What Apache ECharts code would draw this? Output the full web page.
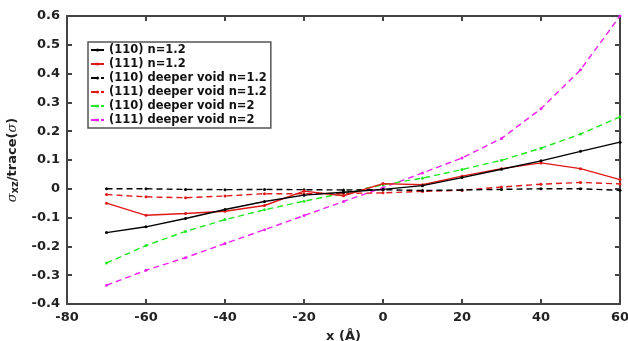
<!DOCTYPE html>
<html>
<head>
<meta charset="utf-8">
<script src="https://cdn.jsdelivr.net/npm/echarts@6/dist/echarts.min.js"></script>
<style>
html,body{margin:0;padding:0;background:#fff;}
#c{width:628px;height:341px;}
</style>
</head>
<body>
<div id="c"></div>
<script>
const xVals = [-70,-60,-50,-40,-30,-20,-10,0,10,20,30,40,50,60];
const s110_12 = [-0.152,-0.132,-0.103,-0.072,-0.044,-0.022,-0.012,-0.002,0.011,0.039,0.068,0.097,0.130,0.162];
const s111_12 = [-0.050,-0.092,-0.086,-0.078,-0.058,-0.008,-0.024,0.018,0.014,0.044,0.070,0.090,0.070,0.032];
const d110_12 = [0.000,0.000,-0.002,-0.003,-0.002,-0.003,-0.004,-0.003,-0.006,-0.004,-0.002,0.000,0.000,-0.005];
const d111_12 = [-0.020,-0.028,-0.031,-0.025,-0.017,-0.017,-0.016,-0.014,-0.009,-0.005,0.006,0.016,0.022,0.017];
const d110_2 = [-0.258,-0.197,-0.148,-0.107,-0.073,-0.043,-0.015,0.014,0.037,0.067,0.099,0.141,0.190,0.250];
const d111_2 = [-0.335,-0.283,-0.239,-0.190,-0.142,-0.093,-0.044,0.004,0.055,0.107,0.175,0.278,0.413,0.600];
const seriesNames = ['(110) n=1.2','(111) n=1.2','(110) deeper void n=1.2','(111) deeper void n=1.2','(110) deeper void n=2','(111) deeper void n=2'];
const seriesVals = [s110_12, s111_12, d110_12, d111_12, d110_2, d111_2];
const colors = ['#000000','#e01818','#000000','#e01818','#22e822','#ee22ee'];
const dashed = [false,false,true,true,true,true];

const chart = echarts.init(document.getElementById('c'));
const F = 'DejaVu Sans';
const mkLine = () => ({show:true, onZero:false, lineStyle:{color:'#444', width:2}});
const mkTick = () => ({show:true, inside:true, length:5, lineStyle:{color:'#444', width:2}});
const mkLbl = () => ({margin:7, fontFamily:F, fontWeight:'bold', fontSize:13, color:'#222'});

const series = seriesNames.map((n,i)=>({
  name:n, type:'line', xAxisIndex:0, yAxisIndex:0,
  data: xVals.map((x,j)=>[x, seriesVals[i][j]]),
  symbol:'circle', symbolSize:3, showSymbol:true,
  itemStyle:{color:colors[i]},
  lineStyle:{color:colors[i], width:1.4, type: dashed[i] ? [6,4] : 'solid'},
  z: 10 - i
}));
series.push({type:'line', xAxisIndex:1, yAxisIndex:1, data:[]});

chart.setOption({
  animation:false,
  grid:{left:67, right:8, top:16, bottom:37, outerBoundsMode:'none', containLabel:false, show:false},
  legend:{
    orient:'vertical', left:88, top:42,
    backgroundColor:'#fff', borderColor:'#555', borderWidth:1.5,
    padding:[1,4,1,2], itemGap:0, itemWidth:13, itemHeight:4,
    textStyle:{fontFamily:F, fontWeight:'bold', fontSize:11.5, color:'#111', lineHeight:14},
    data: seriesNames
  },
  xAxis:[{
    type:'value', min:-80, max:60, interval:20, position:'bottom',
    axisLine:mkLine(), axisTick:mkTick(), splitLine:{show:false},
    axisLabel:mkLbl(),
    name:'x (Å)', nameLocation:'middle', nameGap:26,
    nameTextStyle:{fontFamily:F, fontWeight:'bold', fontSize:13, color:'#222'}
  },{
    type:'value', min:-80, max:60, interval:20, position:'top',
    axisLine:mkLine(), axisTick:mkTick(), splitLine:{show:false}, axisLabel:{show:false}
  }],
  yAxis:[{
    type:'value', min:-0.4, max:0.6, interval:0.1, position:'left',
    axisLine:mkLine(), axisTick:mkTick(), splitLine:{show:false},
    axisLabel:mkLbl(),
    name:'{s|σ}{sub|xz}{t|/trace(}{s|σ}{t|)}', nameLocation:'middle', nameGap:45, nameRotate:90,
    nameTextStyle:{
      rich:{
        s:{fontFamily:'DejaVu Serif', fontStyle:'italic', fontSize:13, color:'#222'},
        sub:{fontFamily:F, fontWeight:'bold', fontSize:10, color:'#222', padding:[6,0,0,0]},
        t:{fontFamily:F, fontWeight:'bold', fontSize:13, color:'#222'}
      }
    }
  },{
    type:'value', min:-0.4, max:0.6, interval:0.1, position:'right',
    axisLine:mkLine(), axisTick:mkTick(), splitLine:{show:false}, axisLabel:{show:false}
  }],
  series: series
});
</script>
</body>
</html>
